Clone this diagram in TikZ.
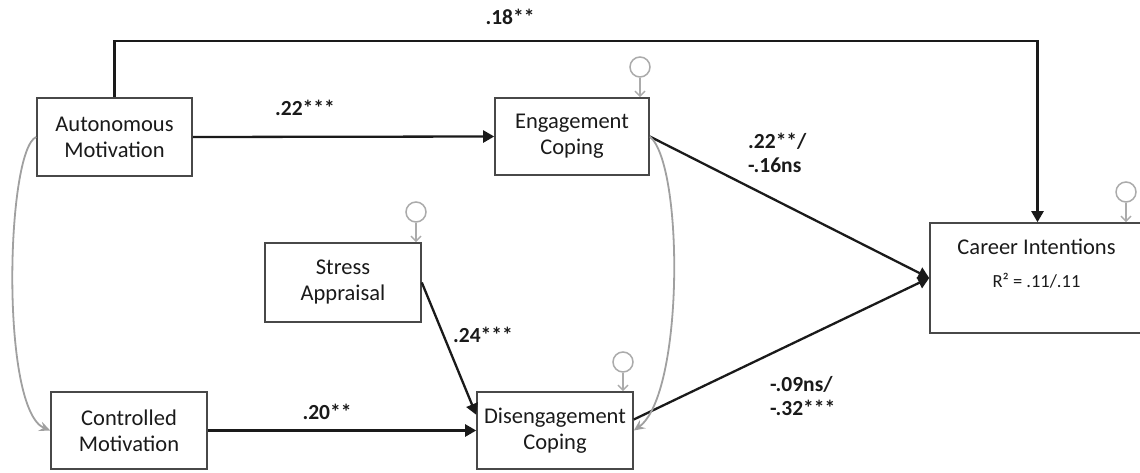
\documentclass[tikz,border=0pt]{standalone}
\usepackage{fontspec}
\setmainfont{Carlito}
\usetikzlibrary{arrows.meta,calc}
\definecolor{boxgray}{HTML}{484848}
\definecolor{arrblack}{HTML}{1A1A1A}
\definecolor{curvegray}{HTML}{A0A0A0}
\definecolor{errgray}{HTML}{ABABAB}
\begin{document}
\begin{tikzpicture}[x=1pt,y=-1pt,
  box/.style={draw=boxgray, line width=1.6pt, align=center, inner sep=0pt,
    font=\fontsize{22.5}{26}\selectfont, text=arrblack},
  lab/.style={font=\bfseries\fontsize{21.5}{24}\selectfont, inner sep=0pt, text=arrblack},
  path/.style={draw=arrblack, line width=2.3pt, -{Triangle[length=11pt,width=12pt]}},
  cov/.style={draw=curvegray, line width=1.8pt, -{Stealth[length=11pt,width=10pt,inset=4pt]}},
  err/.style={draw=errgray, line width=1.5pt, circle, minimum size=20pt, inner sep=0pt},
  errarr/.style={draw=errgray, line width=1.5pt, -{Straight Barb[length=5pt,width=10pt]}}
]
\useasboundingbox (0,0) rectangle (1140,473);
\clip (0,0) rectangle (1140,473);

% boxes
\node[box, minimum width=155pt, minimum height=78pt] (auto) at (114.5,137) {Autonomous\\Motivation};
\node[box, minimum width=154pt, minimum height=77pt] (eng) at (572,136.5) {Engagement\\Coping};
\node[box, minimum width=156pt, minimum height=79pt] (str) at (343,282.5) {Stress\\Appraisal};
\node[box, minimum width=156pt, minimum height=77pt] (ctrl) at (129,430.5) {Controlled\\Motivation};
\node[box, minimum width=156pt, minimum height=77pt] (dis) at (555,430.5) {Disengagement\\Coping};
\node[box, minimum width=215pt, minimum height=110pt] (car) at (1037.5,278) {};
\node[font=\fontsize{22.5}{26}\selectfont, inner sep=0pt, text=arrblack] (cartxt) at (1036.5,247) {Career Intentions};
\node[font=\fontsize{18.5}{22}\selectfont, inner sep=0pt, text=arrblack] (carr) at (1036.5,281) {R² = .11/.11};

% error terms
\node[err] (eEng) at (640,67) {};
\node[err] (eStr) at (416,212) {};
\node[err] (eDis) at (623,362) {};
\node[err] (eCar) at (1126,192) {};
\draw[errarr] (eEng.south) -- (eEng.south |- eng.north);
\draw[errarr] (eStr.south) -- (eStr.south |- str.north);
\draw[errarr] (eDis.south) -- (eDis.south |- dis.north);
\draw[errarr] (eCar.south) -- (eCar.south |- car.north);

% paths
\coordinate (topy) at (0,41);
\draw[path] (auto.north) -- (auto.north |- topy) -- (car.north |- topy) -- (car.north);
\draw[path] (auto.east) -- (eng.west);
\draw[path] (ctrl.east) -- (dis.west);
\draw[path] (str.east) -- ($(dis.north west)!0.3!(dis.south west)$);
\draw[path] (eng.east) -- (car.west);
\draw[path] ($(dis.north east)!0.36!(dis.south east)$) -- (car.west);

% covariances
\draw[cov] (auto.west) .. controls (6,150) and (0,410) .. (ctrl.west);
\draw[cov] (eng.east) .. controls (684,165) and (684,395) .. (dis.east);

% labels
\node[lab] (l18) at (510,17) {.18**};
\node[lab] (l22) at (305,108) {.22***};
\node[lab, align=left, anchor=west] (l22b) at (748,153) {.22**/\\-.16ns};
\node[lab] (l24) at (483,335) {.24***};
\node[lab] (l20) at (327,412) {.20**};
\node[lab, align=left, anchor=west] (l09) at (770,396) {-.09ns/\\-.32***};
\end{tikzpicture}
\end{document}
